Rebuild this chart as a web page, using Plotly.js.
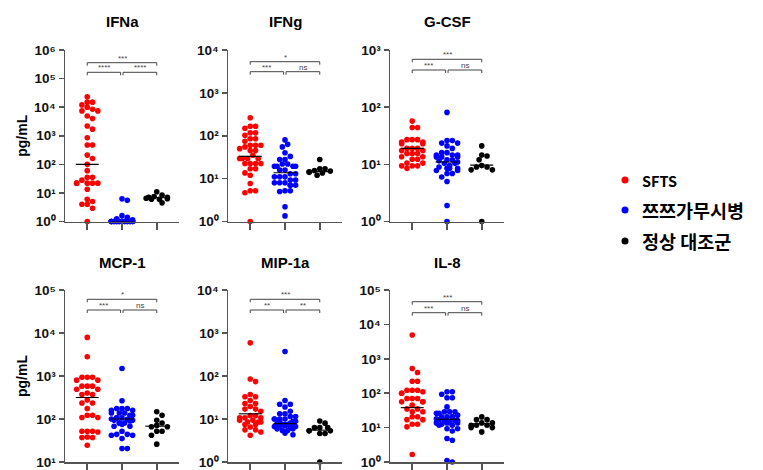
<!DOCTYPE html>
<html><head><meta charset="utf-8">
<script src="https://cdn.plot.ly/plotly-3.0.1.min.js"></script>
<style>html,body{margin:0;padding:0;background:#fff}</style>
</head><body><div id="chart" style="width:763px;height:470px"></div>
<script>
// ---------------- data ----------------
const panels = ['IFNa', 'IFNg', 'G-CSF', 'MCP-1', 'MIP-1a', 'IL-8'];
const groups = ['SFTS', '쯔쯔가무시병', '정상 대조군'];
const groupColors = ['#ff0000', '#0000ff', '#000000'];
const categoryPos = [1, 2, 3];
const yAxisTitle = 'pg/mL';

const ifnaSFTS = [23000, 15000, 15000, 12000, 10000, 8500, 7400, 7400, 4900, 4000, 2200, 1700, 850, 475, 475, 210, 160, 100, 60, 35, 35, 28, 22, 22, 22, 22, 22, 13.5, 6, 5, 4, 4, 2.9, 1];
const ifnaScrub = [6.2, 5.5, 1.6, 1.4, 1.25, 1.15, 1, 1, 1, 1, 1, 1, 1, 1, 1, 1, 1, 1, 1, 1, 1, 1, 1, 1, 1, 1, 1, 1, 1, 1, 1, 1, 1, 1, 1, 1];
const ifnaCtrl = [11, 8.5, 7.5, 7, 7, 6.5, 6.3, 6, 6, 4.5];

const ifngSFTS = [263, 166, 166, 150, 117, 117, 103, 85, 85, 74, 60, 60, 60, 55, 50, 45, 45, 35, 29.5, 29.5, 29.5, 29.5, 22.5, 22.5, 22.5, 22.5, 17, 17, 13.6, 12, 7.7, 5.2, 5.2, 4.7, 1];
const ifngScrub = [80, 63, 55, 40, 33, 28, 28, 22, 22, 19.5, 19.5, 19.5, 19.5, 15.8, 15.8, 13, 13, 11, 11, 11, 9.3, 9.3, 8, 8, 8, 7, 7, 7, 5.2, 5.2, 5, 2.2, 1.35];
const ifngCtrl = [28, 17, 17, 15.5, 15, 14.5, 14, 13.5, 12];

const gcsfSFTS = [57, 44, 44, 27, 27, 27, 24.6, 24.6, 23, 23, 19, 19, 19, 17.4, 17.4, 15.5, 15.5, 15.5, 13.6, 13.6, 12.3, 12.3, 10.5, 10.5, 9.4, 9.4, 9.4, 8.5];
const gcsfScrub = [81, 26, 26, 23.5, 23.5, 21, 19, 16, 16, 14.5, 14.5, 14.5, 13.5, 13.5, 13.5, 12, 12, 11.5, 11, 10.4, 10.4, 9.5, 9, 8.5, 8.5, 8.5, 7.8, 7.8, 6.9, 6.9, 6, 5, 1.9, 1];
const gcsfCtrl = [21, 14.5, 14, 12, 9.5, 9, 9, 8, 8, 1];

const mcp1SFTS = [7900, 2800, 930, 930, 930, 800, 800, 580, 580, 580, 490, 490, 400, 370, 370, 275, 235, 235, 175, 122, 122, 108, 108, 52, 52, 52, 50, 38, 37, 37, 24.5];
const mcp1Scrub = [1500, 265, 175, 175, 175, 160, 160, 138, 138, 138, 122, 122, 106, 106, 106, 100, 98, 93, 93, 90, 81, 81, 81, 75, 68, 68, 52, 44, 44, 42, 42, 35, 20.5, 20.5];
const mcp1Ctrl = [148, 122, 93, 81, 71, 66, 66, 52, 52, 42, 26];

const mip1aSFTS = [590, 85, 74, 37, 33, 33, 27, 23, 23, 19.6, 17, 17, 15.2, 12, 12, 10.7, 10.7, 10.7, 9.3, 9.3, 8.5, 8.5, 8.5, 7.4, 7.4, 6.5, 5.6, 5.6, 5, 4.2];
const mip1aScrub = [370, 27, 22, 22, 19, 15.2, 13.2, 13.2, 11.4, 11.4, 10, 10, 10, 10, 8.9, 8.9, 8.9, 8, 7.8, 7.4, 7.4, 7.4, 7.4, 7, 6.7, 6.7, 6.7, 6.2, 5.9, 5.9, 5.4, 5.4, 4.7, 4.3];
const mip1aCtrl = [9, 8, 6.3, 6.3, 6.3, 5.3, 5.3, 5.3, 4.6, 4.6, 1];

const il8SFTS = [4900, 520, 400, 222, 222, 122, 122, 122, 110, 100, 100, 70, 70, 70, 56, 56, 56, 45, 35, 35, 29, 29, 20.6, 20.6, 17, 17, 12.5, 12.5, 10.5, 1.65];
const il8Scrub = [110, 110, 93, 74, 74, 40, 29, 29, 29, 26, 26, 23, 20.5, 20.5, 20.5, 20.5, 18, 17, 16, 16, 16, 15, 14, 13.7, 13.7, 13.7, 12.5, 11.7, 11.7, 9.3, 9.3, 8, 4.8, 4.3, 1.1, 1];
const il8Ctrl = [20.5, 17, 17, 13.7, 13.7, 11.7, 11.7, 11.7, 10, 10, 7.5];

const ifnaMedians = [100, 1, 6.8];
const ifngMedians = [33, 13.7, 14.6];
const gcsfMedians = [19, 11, 9.7];
const mcp1Medians = [316, 100, 68];
const mip1aMedians = [13.2, 7.8, 5.5];
const il8Medians = [38, 17.5, 13];

const ifnaTicks = [0, 1, 2, 3, 4, 5, 6];
const ifngTicks = [0, 1, 2, 3, 4];
const gcsfTicks = [0, 1, 2, 3];
const mcp1Ticks = [1, 2, 3, 4, 5];
const mip1aTicks = [0, 1, 2, 3, 4];
const il8Ticks = [0, 1, 2, 3, 4, 5];
const superDigits = ['⁰', '¹', '²', '³', '⁴', '⁵', '⁶'];

const sigTop = ['***', '*', '***', '*', '***', '***'];
const sigLeft = ['****', '***', '***', '***', '**', '***'];
const sigRight = ['****', 'ns', 'ns', 'ns', '**', 'ns'];

const panelData = [
  [ifnaSFTS, ifnaScrub, ifnaCtrl],
  [ifngSFTS, ifngScrub, ifngCtrl],
  [gcsfSFTS, gcsfScrub, gcsfCtrl],
  [mcp1SFTS, mcp1Scrub, mcp1Ctrl],
  [mip1aSFTS, mip1aScrub, mip1aCtrl],
  [il8SFTS, il8Scrub, il8Ctrl]
];
const panelMedians = [ifnaMedians, ifngMedians, gcsfMedians, mcp1Medians, mip1aMedians, il8Medians];
const panelTicks = [ifnaTicks, ifngTicks, gcsfTicks, mcp1Ticks, mip1aTicks, il8Ticks];

// ---------------- layout geometry ----------------
const W = 763, H = 470;
const colPx = [[65, 179], [228, 342], [390, 504]];
const rowPx = [[50, 221.5], [290, 462]];
const xRange = [0.36, 3.64];
const bracketTopPx = [12.7, 11.7, 9.3, 9.3, 9.3, 11.7];
const bracketLowPx = [22.3, 21.7, 20, 20, 20, 22.7];
const axisColor = '#555555';
const markerSize = 5.6;
const FONT = 'Arial, "Liberation Sans", sans-serif';

function swarmOffsets(vals, pxPerDec, pxPerUnit, diam, maxOff) {
  const idx = vals.map((v, i) => i).sort((a, b) => vals[b] - vals[a]);
  const placed = [];
  const off = new Array(vals.length).fill(0);
  let overflow = 0;
  idx.forEach(i => {
    const y = Math.log10(vals[i]) * pxPerDec;
    let best = null;
    for (let k = 0; k <= 20 && best === null; k++) {
      const cands = k === 0 ? [0] : [k, -k];
      for (const s of cands) {
        const x = s * diam * 0.5;
        if (Math.abs(x) > maxOff) continue;
        if (placed.every(p => (p.x - x) * (p.x - x) + (p.y - y) * (p.y - y) >= diam * diam * 0.9)) { best = x; break; }
      }
    }
    if (best === null) {
      const slots = [-1, 1, -0.5, 0.5, -0.75, 0.75, -0.25, 0.25, 0];
      best = slots[overflow % slots.length] * maxOff;
      overflow++;
    }
    placed.push({x: best, y: y});
    off[i] = best / pxPerUnit;
  });
  return off;
}

const traces = [];
const layout = {
  width: W, height: H, autosize: false,
  margin: {l: 0, r: 0, t: 0, b: 0},
  paper_bgcolor: '#ffffff', plot_bgcolor: 'rgba(0,0,0,0)',
  showlegend: false,
  font: {family: FONT, color: '#000'},
  annotations: []
};

panels.forEach((name, p) => {
  const n = p + 1;
  const col = colPx[p % 3], row = rowPx[Math.floor(p / 3)];
  const ticks = panelTicks[p];
  const lo = ticks[0], hi = ticks[ticks.length - 1];
  const plotH = row[1] - row[0];
  const pxPerDec = plotH / (hi - lo);
  const pxPerUnit = (col[1] - col[0]) / (xRange[1] - xRange[0]);
  const xa = 'xaxis' + (n === 1 ? '' : n), ya = 'yaxis' + (n === 1 ? '' : n);
  const xr = 'x' + (n === 1 ? '' : n), yr = 'y' + (n === 1 ? '' : n);

  layout[xa] = {
    domain: [col[0] / W, col[1] / W], anchor: yr, range: xRange,
    tickvals: categoryPos, showticklabels: false, ticks: 'outside', ticklen: 7,
    tickwidth: 1.5, tickcolor: axisColor, showline: true, linecolor: axisColor, linewidth: 1.5,
    showgrid: false, zeroline: false, fixedrange: true
  };
  layout[ya] = {
    domain: [1 - row[1] / H, 1 - row[0] / H], anchor: xr, type: 'log', range: [lo, hi],
    tickvals: ticks.map(e => Math.pow(10, e)), ticktext: ticks.map(e => '10' + superDigits[e]),
    ticks: 'outside', ticklen: 5, tickwidth: 1.5, tickcolor: axisColor,
    showline: true, linecolor: axisColor, linewidth: 1.5, showgrid: false, zeroline: false,
    tickfont: {family: FONT, size: 13.5, weight: 'bold', color: '#111'},
    fixedrange: true
  };
  if (p % 3 === 0) {
    layout[ya].title = {text: yAxisTitle, standoff: 3,
      font: {family: FONT, size: 14, weight: 'bold', color: '#000'}};
  }

  panelData[p].forEach((vals, g) => {
    const off = swarmOffsets(vals, pxPerDec, pxPerUnit, 5.3, 10.6);
    traces.push({
      type: 'scatter', mode: 'markers', xaxis: xr, yaxis: yr,
      x: vals.map((v, i) => categoryPos[g] + off[i]), y: vals,
      marker: {size: markerSize, color: groupColors[g], line: {width: 0}},
      cliponaxis: false, hoverinfo: 'skip', name: groups[g]
    });
  });
  panelMedians[p].forEach((m, g) => {
    traces.push({
      type: 'scatter', mode: 'lines', xaxis: xr, yaxis: yr,
      x: [categoryPos[g] - 0.33, categoryPos[g] + 0.33], y: [m, m],
      line: {color: '#000', width: 1.1}, cliponaxis: false, hoverinfo: 'skip'
    });
  });

  // title
  layout.annotations.push({
    xref: xr, yref: 'paper', x: categoryPos[1], y: 1 - (row[0] - 28) / H,
    text: name, showarrow: false, xanchor: 'center', yanchor: 'middle',
    font: {family: FONT, size: 15, weight: 'bold', color: '#000'}
  });

  // significance brackets (drawn as line traces on the panel's own scales)
  const pxToVal = px => Math.pow(10, hi - px / pxPerDec);
  const brackets = [
    [categoryPos[0], categoryPos[2], bracketTopPx[p], sigTop[p]],
    [categoryPos[0], categoryPos[1] - 0.04, bracketLowPx[p], sigLeft[p]],
    [categoryPos[1] + 0.03, categoryPos[2], bracketLowPx[p], sigRight[p]]
  ];
  brackets.forEach(b => {
    const yTop = pxToVal(b[2]), yLow = pxToVal(b[2] + 3);
    traces.push({
      type: 'scatter', mode: 'lines', xaxis: xr, yaxis: yr,
      x: [b[0], b[0], b[1], b[1]], y: [yLow, yTop, yTop, yLow],
      line: {color: '#444', width: 1}, cliponaxis: false, hoverinfo: 'skip'
    });
    layout.annotations.push({
      xref: xr, yref: yr, x: (b[0] + b[1]) / 2, y: Math.log10(yTop), text: b[3], showarrow: false,
      xanchor: 'center', yanchor: 'bottom', yshift: -2,
      font: {family: FONT, size: 8, color: '#444'}
    });
  });
});

// legend (custom) on an overlay axis measured in pixels
const legendX = 625, legendTextX = 640, legendY = [180, 210, 241];
const legendFontSize = [14.5, 18.5, 18.5];
layout.xaxis7 = {domain: [0, 1], range: [0, W], visible: false, fixedrange: true, anchor: 'y7'};
layout.yaxis7 = {domain: [0, 1], range: [H, 0], visible: false, fixedrange: true, anchor: 'x7'};
traces.push({
  type: 'scatter', mode: 'markers', xaxis: 'x7', yaxis: 'y7',
  x: groups.map(() => legendX), y: legendY,
  marker: {size: 7, color: groupColors, line: {width: 0}}, hoverinfo: 'skip', cliponaxis: false
});
groups.forEach((g, i) => {
  layout.annotations.push({
    xref: 'paper', yref: 'paper', x: legendTextX / W, y: 1 - legendY[i] / H,
    text: g, showarrow: false, xanchor: 'left', yanchor: 'middle',
    font: {family: '"Noto Sans CJK KR", "Noto Sans", sans-serif', size: legendFontSize[i], weight: 'bold', color: '#000'}
  });
});

Plotly.newPlot('chart', traces, layout, {staticPlot: true, displayModeBar: false});
</script>
</body></html>
